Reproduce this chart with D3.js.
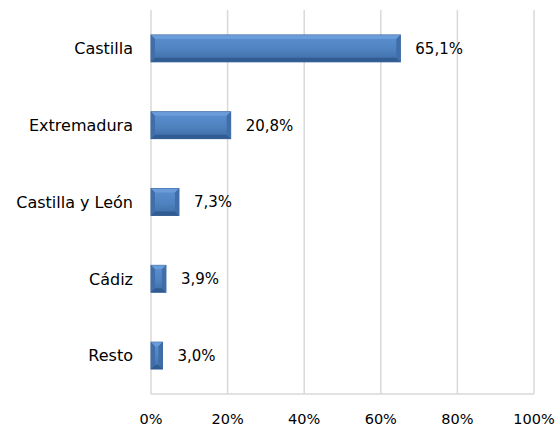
<!DOCTYPE html>
<html><head><meta charset="utf-8">
<script src="https://cdn.jsdelivr.net/npm/d3@7"></script>
<style>body{margin:0;background:#fff}text{font-family:"DejaVu Sans",sans-serif;fill:#000}</style>
</head><body><svg id="c" width="557" height="426"></svg>
<script>
const categories = ["Castilla","Extremadura","Castilla y León","Cádiz","Resto"];
const values = [65.1,20.8,7.3,3.9,3.0];
const valueLabels = ["65,1%","20,8%","7,3%","3,9%","3,0%"];
const xTicks = [0,20,40,60,80,100];
const xTickLabels = ["0%","20%","40%","60%","80%","100%"];

(function(){
const svg = d3.select("#c");
const pl=151, pr=534, pt=10, pb=394;
const x = d3.scaleLinear().domain([0,100]).range([pl,pr]);
const y = d3.scaleBand().domain(categories).range([pt,pb]).paddingInner(0.65).paddingOuter(0.325);

const defs = svg.append("defs");
const g = defs.append("linearGradient").attr("id","bg").attr("x1",0).attr("y1",0).attr("x2",0).attr("y2",1);
g.append("stop").attr("offset","0%").attr("stop-color","#5b90d2");
g.append("stop").attr("offset","55%").attr("stop-color","#4f82bf");
g.append("stop").attr("offset","100%").attr("stop-color","#3e6ca6");

svg.append("g").selectAll("line").data(xTicks).join("line")
  .attr("x1",d=>x(d)).attr("x2",d=>x(d)).attr("y1",pt).attr("y2",pb)
  .attr("stroke","#d9d9d9").attr("stroke-width",1.5);
svg.append("line").attr("x1",pl).attr("x2",pr).attr("y1",pb).attr("y2",pb)
  .attr("stroke","#d9d9d9").attr("stroke-width",1.5);

svg.append("g").selectAll("text").data(xTicks).join("text")
  .attr("x",d=>x(d)).attr("y",pb+30).attr("text-anchor","middle")
  .attr("font-size",14.5).text((d,i)=>xTickLabels[i]);

const bars = svg.append("g").selectAll("g").data(categories).join("g");
bars.append("rect").attr("x",x(0)).attr("y",d=>y(d)).attr("width",(d,i)=>x(values[i])-x(0))
  .attr("height",y.bandwidth()).attr("fill","url(#bg)").attr("stroke","#3a65a0").attr("stroke-width",1);
bars.each(function(d,i){
  const x0=x(0), x1=x(values[i]), y0=y(d), y1=y(d)+y.bandwidth(), b=Math.min(4,(x1-x0)/2-0.5);
  const gg=d3.select(this);
  gg.append("path").attr("d",`M${x0},${y0}L${x1},${y0}L${x1-b},${y0+b}L${x0+b},${y0+b}Z`).attr("fill","#6fa0dc").attr("opacity",0.8);
  gg.append("path").attr("d",`M${x0},${y1}L${x1},${y1}L${x1-b},${y1-b}L${x0+b},${y1-b}Z`).attr("fill","#2f5a8f").attr("opacity",0.9);
  gg.append("path").attr("d",`M${x0},${y0}L${x0+b},${y0+b}L${x0+b},${y1-b}L${x0},${y1}Z`).attr("fill","#3f6ea8");
  gg.append("path").attr("d",`M${x1},${y0}L${x1-b},${y0+b}L${x1-b},${y1-b}L${x1},${y1}Z`).attr("fill","#3f6ea8");
});

svg.append("g").selectAll("text").data(categories).join("text")
  .attr("x",(d,i)=>x(values[i])+15).attr("y",d=>y(d)+y.bandwidth()/2).attr("dy","0.36em")
  .attr("font-size",15).text((d,i)=>valueLabels[i]);

svg.append("g").selectAll("text").data(categories).join("text")
  .attr("x",133).attr("y",d=>y(d)+y.bandwidth()/2).attr("dy","0.36em").attr("text-anchor","end")
  .attr("font-size",16).text(d=>d);
})();
</script></body></html>
